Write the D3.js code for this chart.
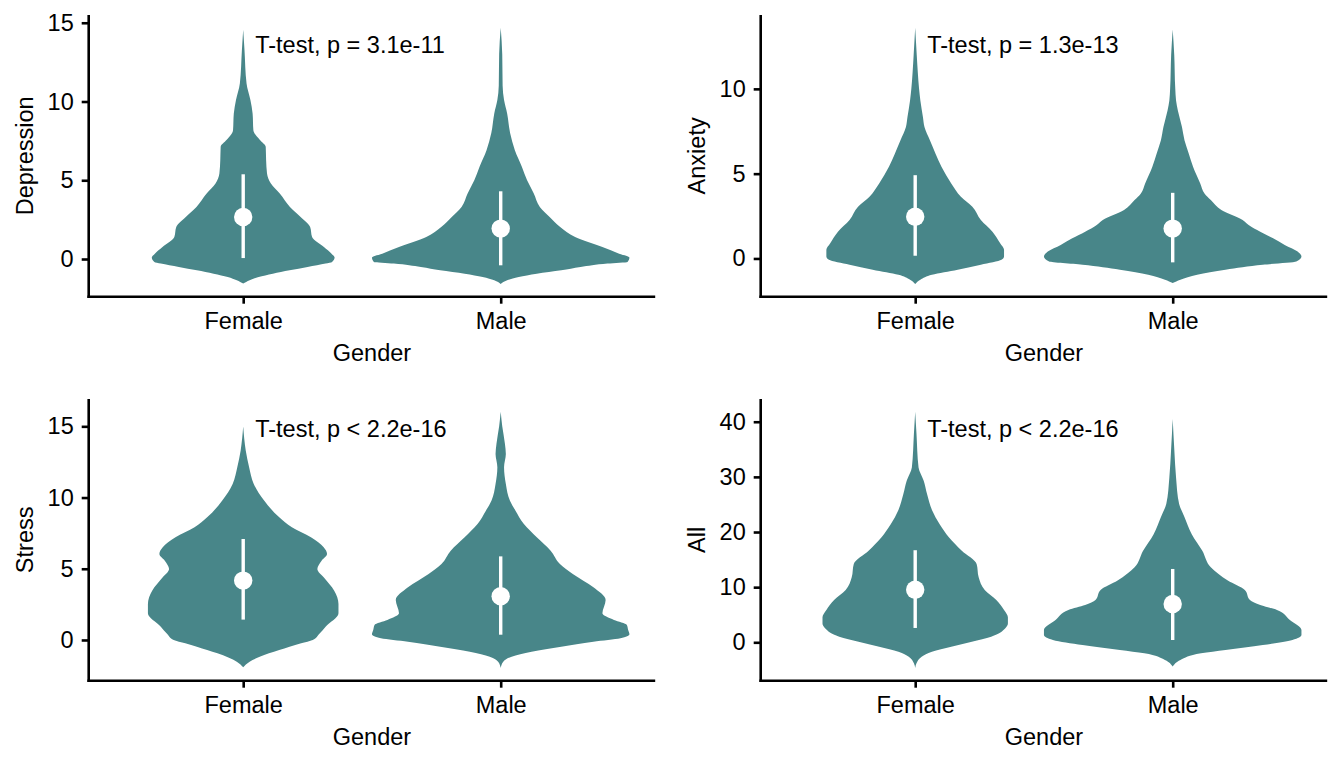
<!DOCTYPE html>
<html>
<head>
<meta charset="utf-8">
<script src="https://cdn.jsdelivr.net/npm/d3@7"></script>
<style>
  body { margin: 0; background: #fff; }
  svg text { font-family: "Liberation Sans", Arial, Helvetica, sans-serif; fill: #000; }
</style>
</head>
<body>
<svg id="chart" width="1344" height="768"></svg>
<script>
// violin outlines: [score, relative width (1 = widest in the panel)]
const groups = ["Female", "Male"]
const measures = ["Depression", "Anxiety", "Stress", "All"]
const testLabels = ["T-test, p = 3.1e-11", "T-test, p = 1.3e-13", "T-test, p < 2.2e-16", "T-test, p < 2.2e-16"]

const depressionFemale = [[14.55,0],[13.27,0.01],[11.15,0.026],[10.09,0.056],[9.24,0.073],[8.18,0.079],[7.55,0.13],[7.12,0.175],[6.27,0.178],[5.43,0.185],[4.79,0.215],[4.16,0.284],[3.31,0.363],[2.67,0.446],[2.03,0.52],[1.4,0.535],[0.76,0.627],[0.34,0.686],[0.09,0.71],[-0.19,0.69],[-0.29,0.64],[-0.51,0.5],[-0.72,0.36],[-0.93,0.23],[-1.14,0.12],[-1.35,0.05],[-1.56,0]]
const depressionMale = [[14.68,0],[13,0.012],[11,0.015],[10.09,0.026],[9.24,0.05],[8,0.073],[6.91,0.11],[5.85,0.165],[5,0.205],[4.16,0.257],[3.31,0.304],[2.67,0.38],[2.03,0.462],[1.4,0.578],[0.76,0.79],[0.34,0.92],[0.09,1],[-0.19,0.985],[-0.29,0.83],[-0.51,0.62],[-0.72,0.47],[-0.93,0.28],[-1.14,0.14],[-1.35,0.05],[-1.58,0]]
const anxietyFemale = [[13.6,0],[12,0.012],[11,0.02],[10,0.03],[9.32,0.04],[8.34,0.06],[7.75,0.072],[6.96,0.115],[6.18,0.158],[5.4,0.204],[4.42,0.28],[3.64,0.355],[3.05,0.444],[2.27,0.51],[1.58,0.6],[0.9,0.66],[0.51,0.69],[0.12,0.69],[-0.08,0.67],[-0.37,0.51],[-0.66,0.33],[-0.96,0.13],[-1.25,0.04],[-1.5,0]]
const anxietyMale = [[13.5,0],[12,0.012],[10,0.02],[9.32,0.026],[8.73,0.04],[7.75,0.072],[6.96,0.092],[6.18,0.125],[5.4,0.158],[4.42,0.214],[3.83,0.247],[3.44,0.296],[2.86,0.378],[2.27,0.543],[1.98,0.59],[1.58,0.68],[1.19,0.78],[0.8,0.87],[0.41,0.97],[0.12,1],[-0.18,0.96],[-0.37,0.7],[-0.66,0.41],[-0.96,0.19],[-1.25,0.06],[-1.45,0]]
const stressFemale = [[14.98,0],[13.29,0.02],[12.13,0.046],[10.96,0.082],[9.78,0.164],[8.61,0.28],[7.91,0.378],[7.21,0.526],[6.51,0.625],[6.04,0.651],[5.57,0.609],[4.99,0.576],[4.4,0.625],[3.46,0.707],[2.53,0.74],[1.87,0.74],[0.93,0.64],[0.42,0.59],[0,0.54],[-0.23,0.45],[-0.47,0.36],[-0.7,0.28],[-0.94,0.2],[-1.52,0.05],[-1.92,0]]
const stressMale = [[16.02,0],[15,0.012],[13.76,0.033],[13.06,0.04],[12.13,0.026],[10.96,0.04],[9.78,0.072],[9.08,0.115],[8.14,0.18],[7.21,0.28],[6.27,0.388],[5.34,0.46],[4.64,0.56],[3.7,0.72],[2.81,0.815],[1.87,0.79],[1.4,0.88],[1.05,0.98],[0.7,0.99],[0.4,1],[0.12,0.93],[-0.12,0.72],[-0.47,0.47],[-0.82,0.24],[-1.17,0.085],[-1.52,0.02],[-1.96,0]]
const allFemale = [[41.8,0],[37.8,0.01],[31.7,0.026],[29.3,0.066],[26.9,0.092],[23.9,0.132],[21.4,0.19],[19,0.263],[16.6,0.362],[14.2,0.477],[11.8,0.493],[9.48,0.54],[7.67,0.63],[5.86,0.69],[4.53,0.72],[3.4,0.72],[2.54,0.7],[1.02,0.59],[0.11,0.44],[-0.8,0.28],[-1.7,0.13],[-2.61,0.05],[-3.8,0.01],[-4.64,0]]
const allMale = [[40.5,0],[34.7,0.013],[29.9,0.026],[25.1,0.05],[22.7,0.092],[19.6,0.148],[16.6,0.23],[13.6,0.296],[11.2,0.428],[9.48,0.56],[7.67,0.6],[6.76,0.68],[5.86,0.81],[4.04,0.91],[2.23,1],[1.32,1],[0.42,0.93],[-0.49,0.7],[-1.4,0.41],[-2,0.22],[-3.2,0.06],[-4.4,0]]

// mean and mean +/- sd per group (Female, Male)
const depressionMean = [2.67, 1.93], depressionLow = [0.06, -0.40], depressionHigh = [5.38, 4.30]
const anxietyMean = [2.46, 1.76], anxietyLow = [0.16, -0.23], anxietyHigh = [4.91, 3.87]
const stressMean = [4.17, 3.07], stressLow = [1.43, 0.37], stressHigh = [7.09, 5.87]
const allMean = [9.54, 6.94], allLow = [2.6, 0.42], allHigh = [16.7, 13.3]

const depressionTicks = [0, 5, 10, 15]
const anxietyTicks = [0, 5, 10]
const stressTicks = [0, 5, 10, 15]
const allTicks = [0, 10, 20, 30, 40]

const violins = [[depressionFemale, depressionMale], [anxietyFemale, anxietyMale], [stressFemale, stressMale], [allFemale, allMale]]
const means = [depressionMean, anxietyMean, stressMean, allMean]
const lows = [depressionLow, anxietyLow, stressLow, allLow]
const highs = [depressionHigh, anxietyHigh, stressHigh, allHigh]
const ticks = [depressionTicks, anxietyTicks, stressTicks, allTicks]

const fill = "#488689"
const fontSize = 23.5

const svg = d3.select("#chart")
const panelW = 566.5, panelH = 281.7
const lefts = [88.7, 760.7], tops = [15, 399]

measures.forEach((m, i) => {
    const left = lefts[i % 2], top = tops[Math.floor(i / 2)]
    const g = svg.append("g").attr("transform", "translate(" + left + "," + top + ")")

    const x = d3.scalePoint().domain(groups).range([0, panelW]).padding(0.6)
    const halfW = d3.scaleLinear().domain([0, 1]).range([0, x.step() * 0.5])

    const vals = violins[i].flat().map(d => d[0])
    const lo = d3.min(vals), hi = d3.max(vals), pad = (hi - lo) * 0.05
    const y = d3.scaleLinear().domain([lo - pad, hi + pad]).range([panelH, 0])

    // violins
    groups.forEach((grp, j) => {
        const cx = x(grp)
        const area = d3.area()
            .curve(d3.curveMonotoneY)
            .y(d => y(d[0]))
            .x0(d => cx - halfW(d[1]))
            .x1(d => cx + halfW(d[1]))
        g.append("path")
            .datum(violins[i][j].slice().sort((a, b) => b[0] - a[0]))
            .attr("d", area)
            .attr("fill", fill)

        g.append("line")
            .attr("x1", cx).attr("x2", cx)
            .attr("y1", y(lows[i][j])).attr("y2", y(highs[i][j]))
            .attr("stroke", "#fff").attr("stroke-width", 3.4)
        g.append("circle")
            .attr("cx", cx).attr("cy", y(means[i][j]))
            .attr("r", 9.2).attr("fill", "#fff")
    })

    // axes
    const yAxis = g.append("g")
        .call(d3.axisLeft(y).tickValues(ticks[i]).tickSize(7).tickSizeOuter(0).tickPadding(8))
    const xAxis = g.append("g").attr("transform", "translate(0," + panelH + ")")
        .call(d3.axisBottom(x).tickSize(7).tickSizeOuter(0).tickPadding(9))
    ;[yAxis, xAxis].forEach(a => {
        a.select(".domain").attr("stroke", "#000").attr("stroke-width", 2.6)
        a.selectAll(".tick line").attr("stroke", "#000").attr("stroke-width", 2.6)
        a.selectAll("text").attr("font-size", fontSize).attr("fill", "#000")
    })
    // make the two axis lines span the whole panel
    yAxis.select(".domain").attr("d", "M0," + (panelH + 1.3) + "V0")
    xAxis.select(".domain").attr("d", "M-1.3,0H" + panelW)

    // titles
    g.append("text")
        .attr("x", panelW / 2).attr("y", panelH + 64.5)
        .attr("text-anchor", "middle").attr("font-size", fontSize)
        .text("Gender")
    g.append("text")
        .attr("transform", "translate(-64," + panelH / 2 + ") rotate(-90)")
        .attr("text-anchor", "middle").attr("dy", "0.35em").attr("font-size", fontSize)
        .text(m)

    g.append("text")
        .attr("x", x("Female") + 12).attr("y", 37.7)
        .attr("font-size", fontSize)
        .text(testLabels[i])
})
</script>
</body>
</html>
